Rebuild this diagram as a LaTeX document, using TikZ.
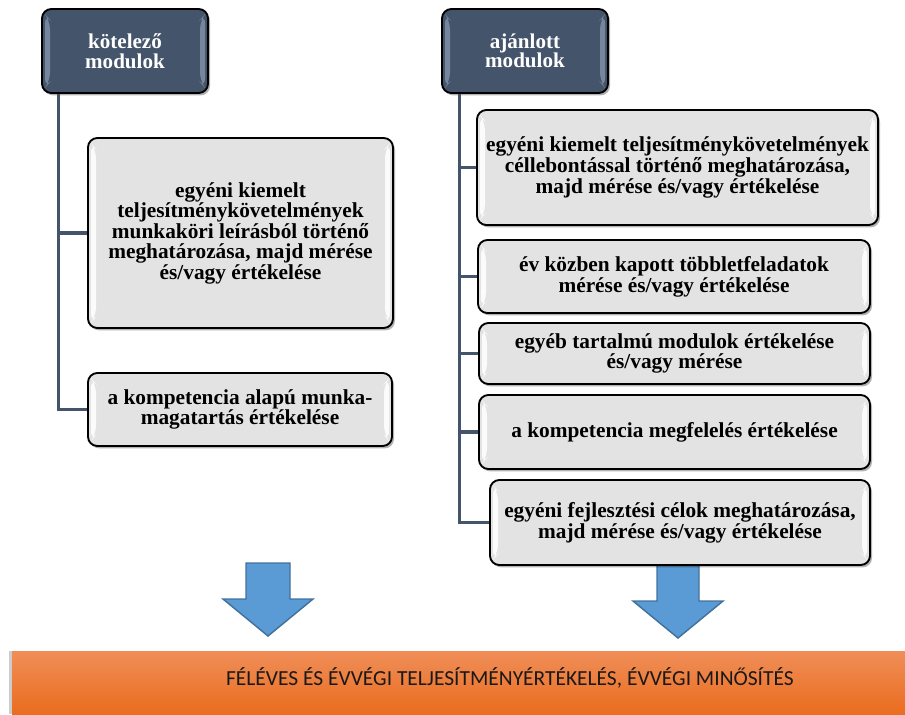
\documentclass[tikz,border=0pt]{standalone}
\usepackage{fontspec}
\setmainfont{Liberation Serif}
\newfontfamily\barfont{Carlito}
\usetikzlibrary{shadows,calc}

\definecolor{slate}{RGB}{68,84,106}
\definecolor{slatelight}{RGB}{140,156,178}
\definecolor{boxgray}{RGB}{227,227,227}
\definecolor{arrowblue}{RGB}{91,155,213}
\definecolor{arrowedge}{RGB}{65,113,156}
\definecolor{orangetop}{RGB}{240,142,88}
\definecolor{orangebot}{RGB}{234,108,30}
\definecolor{bartext}{RGB}{25,25,25}

\tikzset{
  % light bevel strips along the left and right inner edges
  bevel/.style={path picture={
    \fill[#1]
      ($(path picture bounding box.north west)+(3,5)$) --
      ($(path picture bounding box.north west)+(8,11)$) --
      ($(path picture bounding box.south west)+(8,-11)$) --
      ($(path picture bounding box.south west)+(3,-5)$) -- cycle;
    \fill[#1]
      ($(path picture bounding box.north east)+(-3,5)$) --
      ($(path picture bounding box.north east)+(-8,11)$) --
      ($(path picture bounding box.south east)+(-8,-11)$) --
      ($(path picture bounding box.south east)+(-3,-5)$) -- cycle;
  }},
  softshadow/.style={drop shadow={shadow xshift=1.5pt, shadow yshift=-1.8pt,
    opacity=0.3, fill=black}},
  header/.style={draw=black, line width=1.4pt, rounded corners=7pt,
    fill=slate, text=white, align=center, inner sep=0pt,
    font=\fontsize{15.8}{14.6}\selectfont\bfseries,
    softshadow, bevel={slatelight!70!slate}},
  item/.style={draw=black, line width=1.4pt, rounded corners=7pt,
    fill=boxgray, text=black, align=center, inner sep=0pt,
    font=\fontsize{16}{14}\selectfont\bfseries,
    softshadow, bevel={white!85!boxgray}},
  conn/.style={draw=slate, line width=2.3pt},
  bigarrow/.style={fill=arrowblue, draw=arrowedge, line width=1.1pt, line join=miter},
  banner/.style={top color=orangetop, bottom color=orangebot, draw=none,
    inner sep=0pt, drop shadow={shadow xshift=-2pt, shadow yshift=0pt,
    opacity=0.2, fill=black}},
}

\begin{document}
\begin{tikzpicture}[x=0.75pt, y=-0.75pt]
  \useasboundingbox (0,0) rectangle (905,714);

  % downward block arrows
  \filldraw[bigarrow] (246,563) -- (290,563) -- (290,599) -- (313,599)
    -- (268,636) -- (223,599) -- (246,599) -- cycle;
  \filldraw[bigarrow] (657,560) -- (699,560) -- (699,601) -- (723,601)
    -- (678,638) -- (633,601) -- (657,601) -- cycle;

  % column headers
  \node[header, minimum width=166*0.75pt, minimum height=84*0.75pt]
    (hl) at (125,51) {kötelező\\modulok};
  \node[header, minimum width=166*0.75pt, minimum height=84*0.75pt]
    (hr) at (525,51) {ajánlott\\modulok};

  % mandatory modules
  \node[item, minimum width=305*0.75pt, minimum height=190*0.75pt,
        font=\fontsize{16}{14.5}\selectfont\bfseries]
    (l1) at (240.5,233) {egyéni kiemelt\\teljesítménykövetelmények\\munkaköri leírásból történő\\meghatározása, majd mérése\\és/vagy értékelése};
  \node[item, minimum width=304*0.75pt, minimum height=73*0.75pt,
        font=\fontsize{16}{13.9}\selectfont\bfseries]
    (l2) at (240,409.5) {a kompetencia alapú munka-\\magatartás értékelése};

  % recommended modules
  \node[item, minimum width=401*0.75pt, minimum height=115*0.75pt]
    (r1) at (677.5,167.5) {egyéni kiemelt teljesítménykövetelmények\\céllebontással történő meghatározása,\\majd mérése és/vagy értékelése};
  \node[item, minimum width=392*0.75pt, minimum height=73*0.75pt,
        font=\fontsize{16}{15.8}\selectfont\bfseries]
    (r2) at (674,276.5) {év közben kapott többletfeladatok\\mérése és/vagy értékelése};
  \node[item, minimum width=391*0.75pt, minimum height=61*0.75pt,
        font=\fontsize{16}{15}\selectfont\bfseries]
    (r3) at (674.5,353.5) {egyéb tartalmú modulok értékelése\\és/vagy mérése};
  \node[item, minimum width=391*0.75pt, minimum height=74*0.75pt]
    (r4) at (674.5,432) {a kompetencia megfelelés értékelése};
  \node[item, minimum width=380*0.75pt, minimum height=85*0.75pt,
        font=\fontsize{16}{13.9}\selectfont\bfseries]
    (r5) at (680,522.5) {egyéni fejlesztési célok meghatározása,\\majd mérése és/vagy értékelése};

  % tree connectors
  \coordinate (lstem) at ($(hl.south west)+(17,0)$);
  \coordinate (rstem) at ($(hr.south west)+(18,0)$);
  \draw[conn] (lstem) |- (l1.west);
  \draw[conn] (lstem) |- (l2.west);
  \foreach \n in {r1,r2,r3,r4,r5}
    \draw[conn] (rstem) |- (\n.west);

  % result banner
  \node[banner, minimum width=893*0.75pt, minimum height=63*0.75pt]
    (bar) at (458.5,682.5) {};
  \node[font=\barfont\fontsize{16.1}{18}\selectfont, text=bartext, inner sep=0pt]
    (bartxt) at (510,677.5) {FÉLÉVES ÉS ÉVVÉGI TELJESÍTMÉNYÉRTÉKELÉS, ÉVVÉGI MINŐSÍTÉS};
\end{tikzpicture}
\end{document}
